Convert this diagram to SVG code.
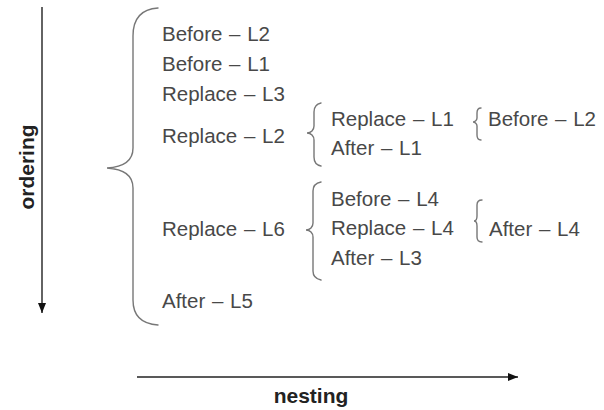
<svg xmlns="http://www.w3.org/2000/svg" width="604" height="410" viewBox="0 0 604 410">
<defs>
<style>
.t{font-family:"Liberation Sans",Arial,sans-serif;font-size:20.5px;fill:#484848;word-spacing:1px}
.lbl{font-family:"Liberation Sans",Arial,sans-serif;font-size:21px;font-weight:bold;fill:#222}
.br{fill:none;stroke:#777;stroke-width:1.4;stroke-linecap:round}
.ax{fill:none;stroke:#222;stroke-width:1.4}
</style>
<marker id="ah" viewBox="0 0 10 8" refX="10" refY="4" markerWidth="10" markerHeight="8" markerUnits="userSpaceOnUse" orient="auto">
<path d="M0,0 L10,4 L0,8 Z" fill="#111"/>
</marker>
</defs>
<rect width="604" height="410" fill="#fff"/>
<g id="connectors">
<path id="ordering-axis" class="ax" d="M42,7 L42,313" marker-end="url(#ah)"/>
<path id="nesting-axis" class="ax" d="M137,377 L518,377" marker-end="url(#ah)"/>
<path id="brace-main" class="br" d="M158,8 C142,9 133,18 133,36 L133,148 C133,160 124,167 107,168 C124,169 133,176 133,188 L133,300 C133,316 142,324 158,325"/>
<path id="brace-l2" class="br" d="M321,103 C316,104 314,107 314,112 L314,126 C314,130 311,133 307,133 C311,133 314,136 314,140 L314,157 C314,162 316,165 321,166"/>
<path id="brace-l6" class="br" d="M321,182 C316,183 313,186 313,191 L313,223 C313,227 310,230 306,230 C310,230 313,233 313,237 L313,271 C313,276 316,279 321,280"/>
<path id="brace-l1" class="br" d="M481,108 C478,108 477,110 477,113 L477,118 C477,120 475,122 473,122 C475,122 477,124 477,126 L477,135 C477,138 478,140 481,140"/>
<path id="brace-l4" class="br" d="M482,200 C479,200 477,202 477,205 L477,216 C477,219 476,221 474,221 C476,221 477,223 477,226 L477,237 C477,240 479,242 482,242"/>
</g>
<g id="label-ordering"><text class="lbl" text-anchor="middle" transform="translate(34,167) rotate(-90)">ordering</text></g>
<g id="label-nesting"><text class="lbl" x="311" y="403" text-anchor="middle">nesting</text></g>
<g id="n-before-l2"><text class="t" x="162" y="41">Before – L2</text></g>
<g id="n-before-l1"><text class="t" x="162" y="71">Before – L1</text></g>
<g id="n-replace-l3"><text class="t" x="162" y="101">Replace – L3</text></g>
<g id="n-replace-l2"><text class="t" x="162" y="143">Replace – L2</text></g>
<g id="n-replace-l6"><text class="t" x="162" y="236">Replace – L6</text></g>
<g id="n-after-l5"><text class="t" x="162" y="308">After – L5</text></g>
<g id="n-replace-l1"><text class="t" x="331" y="126">Replace – L1</text></g>
<g id="n-after-l1"><text class="t" x="331" y="155">After – L1</text></g>
<g id="n-before-l4"><text class="t" x="331" y="206">Before – L4</text></g>
<g id="n-replace-l4"><text class="t" x="331" y="235">Replace – L4</text></g>
<g id="n-after-l3"><text class="t" x="331" y="265">After – L3</text></g>
<g id="n-before-l2b"><text class="t" x="488" y="126">Before – L2</text></g>
<g id="n-after-l4"><text class="t" x="489" y="236">After – L4</text></g>
</svg>
